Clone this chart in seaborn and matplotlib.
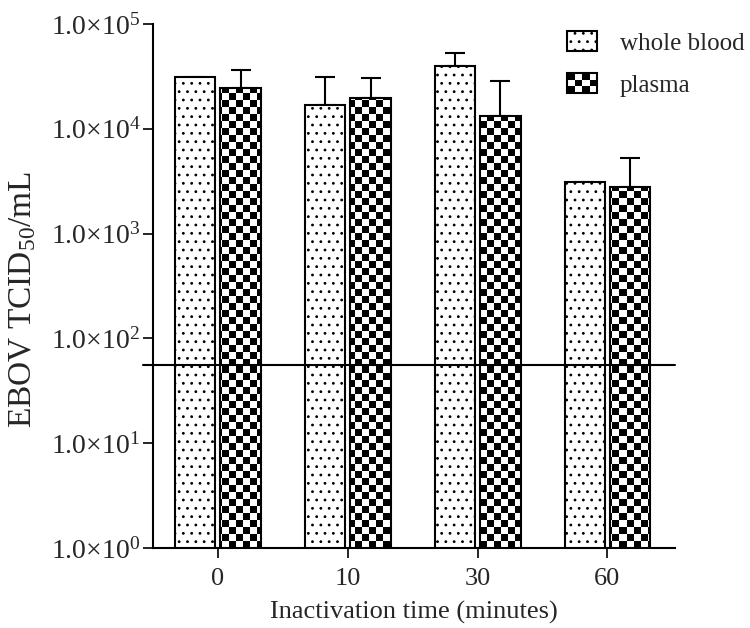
import numpy as np
import pandas as pd
import matplotlib
matplotlib.use("Agg")
import matplotlib.pyplot as plt
import seaborn as sns
from matplotlib.patches import Patch, Rectangle
from matplotlib.legend_handler import HandlerBase
from matplotlib.ticker import FixedLocator, FixedFormatter, NullLocator

# ---- data ----
times = ["0", "10", "30", "60"]
samples = ["whole blood", "plasma"]
whole_blood = [31200, 16900, 39700, 3100]
whole_blood_upper = [np.nan, 31200, 52900, np.nan]
plasma = [24500, 19700, 13200, 2790]
plasma_upper = [36400, 30500, 28600, 5260]
detection_limit = 56
y_ticks = [1e0, 1e1, 1e2, 1e3, 1e4, 1e5]
y_labels = [r"$1.0{\times}10^{%d}$" % i for i in range(6)]

sns.set_style("ticks")
plt.rcParams["font.family"] = ["Liberation Serif", "DejaVu Serif"]
plt.rcParams["mathtext.fontset"] = "custom"
plt.rcParams["mathtext.rm"] = "Liberation Serif"
plt.rcParams["mathtext.it"] = "Liberation Serif:italic"
plt.rcParams["hatch.color"] = "black"
plt.rcParams["hatch.linewidth"] = 0.8

df = pd.DataFrame({
    "time": times * 2,
    "titer": whole_blood + plasma,
    "sample": [samples[0]] * 4 + [samples[1]] * 4,
})

fig, ax = plt.subplots(figsize=(7.5, 6.28), dpi=100)
fig.subplots_adjust(left=0.204, right=0.9, bottom=0.127, top=0.962)
ax.set_yscale("log")

sns.barplot(data=df, x="time", y="titer", hue="sample", order=times,
            hue_order=samples, palette=["white", "white"], saturation=1,
            edgecolor="black", linewidth=1.5, width=0.70, gap=0.11,
            errorbar=None, legend=False, ax=ax)

ax.set_xlim(-0.5, 3.52)
ax.set_ylim(1, 1e5)
ax.set_autoscale_on(False)

# whole blood: dotted fill
for p in ax.containers[0]:
    p.set_hatch("..")

# plasma: checkerboard fill clipped to each bar
nx, ny = 75, 75
checker = np.add.outer(np.arange(ny), np.arange(nx)) % 2
for p in ax.containers[1]:
    p.set_facecolor("none")
    p.set_zorder(2)
    im = ax.imshow(checker, cmap="binary", vmin=0, vmax=1, extent=(0, 1, 0, 1),
                   transform=ax.transAxes, aspect="auto",
                   interpolation="nearest", zorder=1.5)
    im.set_clip_path(p)

# upper-only error bars
for cont, means, upper in zip(ax.containers[:2], [whole_blood, plasma],
                              [whole_blood_upper, plasma_upper]):
    xs = [p.get_x() + p.get_width() / 2 for p in cont]
    err = np.array(upper) - np.array(means)
    ax.errorbar(xs, means, yerr=[np.zeros(len(means)), err], fmt="none",
                ecolor="black", elinewidth=1.5, capsize=7.5, capthick=1.5,
                zorder=0.9)

# detection limit
ax.axhline(detection_limit, xmin=-0.019, xmax=1, color="black", lw=1.5,
           clip_on=False, zorder=3)

ax.yaxis.set_major_locator(FixedLocator(y_ticks))
ax.yaxis.set_major_formatter(FixedFormatter(y_labels))
ax.yaxis.set_minor_locator(NullLocator())
ax.tick_params(axis="y", labelsize=20, length=7, width=1.2, color="black", pad=2)
ax.tick_params(axis="x", labelsize=19, length=7, width=1.2, color="black", pad=7)
for s in ["left", "bottom"]:
    ax.spines[s].set_linewidth(1.5)
    ax.spines[s].set_color("black")
sns.despine(ax=ax)

ax.set_xlabel("Inactivation time (minutes)", fontsize=19, labelpad=8)
ax.set_ylabel(r"EBOV TCID$_{50}$/mL", fontsize=24)
ax.yaxis.set_label_coords(-0.22, 0.475)


class CheckerHandler(HandlerBase):
    def create_artists(self, legend, orig_handle, xdescent, ydescent, width,
                       height, fontsize, trans):
        x0, y0 = -xdescent, -ydescent
        cols, rows = 4, 3
        cw, ch = width / cols, height / rows
        arts = []
        for i in range(cols):
            for j in range(rows):
                if (i + j) % 2 == 0:
                    arts.append(Rectangle((x0 + i * cw, y0 + j * ch), cw, ch,
                                          facecolor="black", edgecolor="none",
                                          transform=trans))
        arts.append(Rectangle((x0, y0), width, height, facecolor="none",
                              edgecolor="black", lw=1.5, transform=trans))
        return arts


class CheckerKey:
    pass


handles = [Patch(facecolor="white", edgecolor="black", hatch="..", lw=1.5),
           CheckerKey()]
fig.legend(handles, samples, handler_map={CheckerKey: CheckerHandler()},
           loc="upper left", bbox_to_anchor=(0.756, 0.95), frameon=False,
           fontsize=18, handlelength=1.2, handleheight=0.8,
           handletextpad=0.9, labelspacing=0.75, borderpad=0,
           borderaxespad=0)

fig.savefig("out.png", dpi=100)
